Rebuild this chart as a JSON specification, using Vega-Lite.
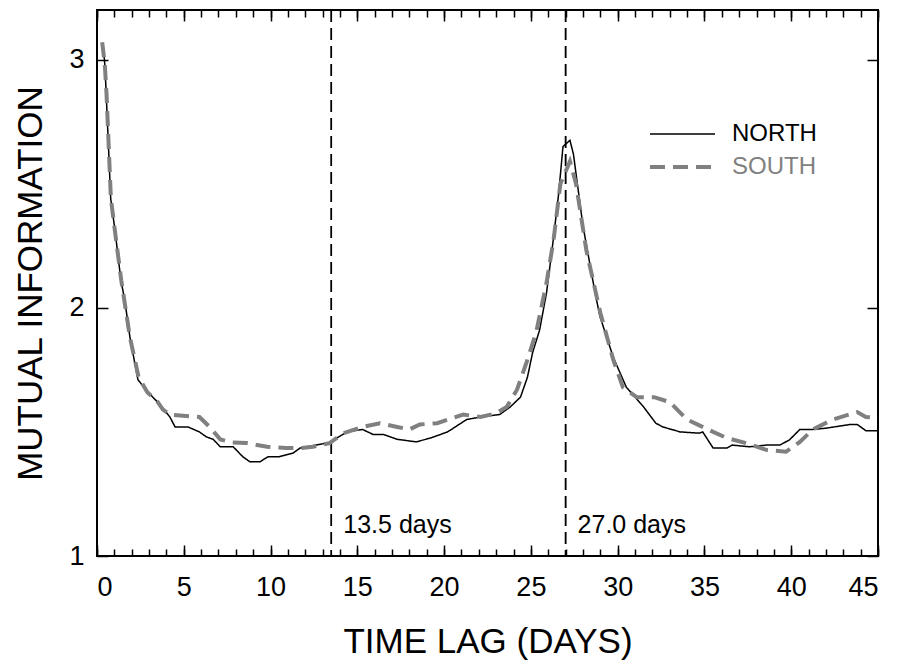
{
  "$schema": "https://vega.github.io/schema/vega-lite/v6.json",
  "width": 781,
  "height": 546,
  "autosize": "none",
  "padding": {"left": 97, "top": 10, "right": 20, "bottom": 107},
  "background": "white",
  "config": {
    "font": "Liberation Sans",
    "view": {"stroke": "black", "strokeWidth": 2},
    "axis": {
      "domain": false,
      "grid": false,
      "labelFont": "Liberation Sans",
      "titleFont": "Liberation Sans",
      "labelColor": "black",
      "titleColor": "black",
      "tickColor": "black",
      "tickWidth": 1.5,
      "titleFontWeight": "normal"
    }
  },
  "datasets": {
    "curves": [
      {"lag": 0.35, "mi": 3.06, "series": "NORTH"},
      {"lag": 0.45, "mi": 2.98, "series": "NORTH"},
      {"lag": 0.52, "mi": 2.88, "series": "NORTH"},
      {"lag": 0.79, "mi": 2.44, "series": "NORTH"},
      {"lag": 1.04, "mi": 2.31, "series": "NORTH"},
      {"lag": 1.38, "mi": 2.11, "series": "NORTH"},
      {"lag": 1.6, "mi": 2.03, "series": "NORTH"},
      {"lag": 1.9, "mi": 1.88, "series": "NORTH"},
      {"lag": 2.36, "mi": 1.71, "series": "NORTH"},
      {"lag": 2.94, "mi": 1.66, "series": "NORTH"},
      {"lag": 3.63, "mi": 1.61, "series": "NORTH"},
      {"lag": 4.2, "mi": 1.56, "series": "NORTH"},
      {"lag": 4.5, "mi": 1.52, "series": "NORTH"},
      {"lag": 5.24, "mi": 1.52, "series": "NORTH"},
      {"lag": 5.9, "mi": 1.5, "series": "NORTH"},
      {"lag": 6.3, "mi": 1.48, "series": "NORTH"},
      {"lag": 6.7, "mi": 1.47, "series": "NORTH"},
      {"lag": 7.1, "mi": 1.44, "series": "NORTH"},
      {"lag": 7.85, "mi": 1.44, "series": "NORTH"},
      {"lag": 8.4, "mi": 1.4, "series": "NORTH"},
      {"lag": 8.8, "mi": 1.38, "series": "NORTH"},
      {"lag": 9.4, "mi": 1.38, "series": "NORTH"},
      {"lag": 9.85, "mi": 1.4, "series": "NORTH"},
      {"lag": 10.5, "mi": 1.4, "series": "NORTH"},
      {"lag": 11.3, "mi": 1.415, "series": "NORTH"},
      {"lag": 11.7, "mi": 1.435, "series": "NORTH"},
      {"lag": 12.85, "mi": 1.45, "series": "NORTH"},
      {"lag": 13.4, "mi": 1.457, "series": "NORTH"},
      {"lag": 14.4, "mi": 1.5, "series": "NORTH"},
      {"lag": 15.3, "mi": 1.51, "series": "NORTH"},
      {"lag": 15.9, "mi": 1.49, "series": "NORTH"},
      {"lag": 16.5, "mi": 1.49, "series": "NORTH"},
      {"lag": 17.3, "mi": 1.47, "series": "NORTH"},
      {"lag": 18.4, "mi": 1.46, "series": "NORTH"},
      {"lag": 19.2, "mi": 1.475, "series": "NORTH"},
      {"lag": 20.2, "mi": 1.5, "series": "NORTH"},
      {"lag": 21.3, "mi": 1.55, "series": "NORTH"},
      {"lag": 22.1, "mi": 1.56, "series": "NORTH"},
      {"lag": 23.2, "mi": 1.57, "series": "NORTH"},
      {"lag": 23.8, "mi": 1.6, "series": "NORTH"},
      {"lag": 24.4, "mi": 1.64, "series": "NORTH"},
      {"lag": 24.8, "mi": 1.72, "series": "NORTH"},
      {"lag": 25.1, "mi": 1.82, "series": "NORTH"},
      {"lag": 25.5, "mi": 1.91, "series": "NORTH"},
      {"lag": 25.9, "mi": 2.06, "series": "NORTH"},
      {"lag": 26.3, "mi": 2.28, "series": "NORTH"},
      {"lag": 26.6, "mi": 2.46, "series": "NORTH"},
      {"lag": 26.85, "mi": 2.65, "series": "NORTH"},
      {"lag": 27.25, "mi": 2.675, "series": "NORTH"},
      {"lag": 27.45, "mi": 2.62, "series": "NORTH"},
      {"lag": 28.0, "mi": 2.33, "series": "NORTH"},
      {"lag": 28.7, "mi": 2.06, "series": "NORTH"},
      {"lag": 28.98, "mi": 1.965, "series": "NORTH"},
      {"lag": 29.75, "mi": 1.8, "series": "NORTH"},
      {"lag": 30.5, "mi": 1.68, "series": "NORTH"},
      {"lag": 31.5, "mi": 1.6, "series": "NORTH"},
      {"lag": 32.2, "mi": 1.535, "series": "NORTH"},
      {"lag": 32.6, "mi": 1.52, "series": "NORTH"},
      {"lag": 33.6, "mi": 1.5, "series": "NORTH"},
      {"lag": 34.7, "mi": 1.495, "series": "NORTH"},
      {"lag": 34.9, "mi": 1.5, "series": "NORTH"},
      {"lag": 35.5, "mi": 1.435, "series": "NORTH"},
      {"lag": 36.3, "mi": 1.435, "series": "NORTH"},
      {"lag": 36.6, "mi": 1.447, "series": "NORTH"},
      {"lag": 37.6, "mi": 1.44, "series": "NORTH"},
      {"lag": 38.6, "mi": 1.447, "series": "NORTH"},
      {"lag": 39.35, "mi": 1.447, "series": "NORTH"},
      {"lag": 39.9, "mi": 1.468, "series": "NORTH"},
      {"lag": 40.5, "mi": 1.51, "series": "NORTH"},
      {"lag": 41.25, "mi": 1.51, "series": "NORTH"},
      {"lag": 42.0, "mi": 1.515, "series": "NORTH"},
      {"lag": 43.4, "mi": 1.53, "series": "NORTH"},
      {"lag": 43.8, "mi": 1.53, "series": "NORTH"},
      {"lag": 44.3, "mi": 1.505, "series": "NORTH"},
      {"lag": 45.0, "mi": 1.505, "series": "NORTH"},
      {"lag": 0.3, "mi": 3.07, "series": "SOUTH"},
      {"lag": 0.45, "mi": 2.98, "series": "SOUTH"},
      {"lag": 0.55, "mi": 2.86, "series": "SOUTH"},
      {"lag": 0.8, "mi": 2.44, "series": "SOUTH"},
      {"lag": 1.05, "mi": 2.3, "series": "SOUTH"},
      {"lag": 1.4, "mi": 2.11, "series": "SOUTH"},
      {"lag": 1.9, "mi": 1.88, "series": "SOUTH"},
      {"lag": 2.4, "mi": 1.72, "series": "SOUTH"},
      {"lag": 2.9, "mi": 1.66, "series": "SOUTH"},
      {"lag": 3.5, "mi": 1.62, "series": "SOUTH"},
      {"lag": 3.8, "mi": 1.59, "series": "SOUTH"},
      {"lag": 4.2, "mi": 1.57, "series": "SOUTH"},
      {"lag": 5.9, "mi": 1.56, "series": "SOUTH"},
      {"lag": 6.5, "mi": 1.52, "series": "SOUTH"},
      {"lag": 7.1, "mi": 1.47, "series": "SOUTH"},
      {"lag": 7.8, "mi": 1.457, "series": "SOUTH"},
      {"lag": 8.6, "mi": 1.455, "series": "SOUTH"},
      {"lag": 9.8, "mi": 1.44, "series": "SOUTH"},
      {"lag": 10.9, "mi": 1.435, "series": "SOUTH"},
      {"lag": 11.7, "mi": 1.435, "series": "SOUTH"},
      {"lag": 12.45, "mi": 1.44, "series": "SOUTH"},
      {"lag": 13.4, "mi": 1.455, "series": "SOUTH"},
      {"lag": 14.2, "mi": 1.495, "series": "SOUTH"},
      {"lag": 15.3, "mi": 1.52, "series": "SOUTH"},
      {"lag": 16.3, "mi": 1.535, "series": "SOUTH"},
      {"lag": 17.3, "mi": 1.52, "series": "SOUTH"},
      {"lag": 18.0, "mi": 1.51, "series": "SOUTH"},
      {"lag": 18.6, "mi": 1.53, "series": "SOUTH"},
      {"lag": 19.6, "mi": 1.535, "series": "SOUTH"},
      {"lag": 21.1, "mi": 1.57, "series": "SOUTH"},
      {"lag": 22.1, "mi": 1.56, "series": "SOUTH"},
      {"lag": 23.0, "mi": 1.575, "series": "SOUTH"},
      {"lag": 23.6, "mi": 1.6, "series": "SOUTH"},
      {"lag": 24.2, "mi": 1.67, "series": "SOUTH"},
      {"lag": 24.75, "mi": 1.78, "series": "SOUTH"},
      {"lag": 25.3, "mi": 1.9, "series": "SOUTH"},
      {"lag": 25.9, "mi": 2.1, "series": "SOUTH"},
      {"lag": 26.3, "mi": 2.27, "series": "SOUTH"},
      {"lag": 26.7, "mi": 2.5, "series": "SOUTH"},
      {"lag": 27.25, "mi": 2.59, "series": "SOUTH"},
      {"lag": 27.6, "mi": 2.5, "series": "SOUTH"},
      {"lag": 28.2, "mi": 2.23, "series": "SOUTH"},
      {"lag": 29.0, "mi": 1.98, "series": "SOUTH"},
      {"lag": 29.75, "mi": 1.79, "series": "SOUTH"},
      {"lag": 30.3, "mi": 1.68, "series": "SOUTH"},
      {"lag": 31.1, "mi": 1.64, "series": "SOUTH"},
      {"lag": 32.1, "mi": 1.64, "series": "SOUTH"},
      {"lag": 33.0, "mi": 1.62, "series": "SOUTH"},
      {"lag": 34.0, "mi": 1.55, "series": "SOUTH"},
      {"lag": 35.5, "mi": 1.5, "series": "SOUTH"},
      {"lag": 36.3, "mi": 1.475, "series": "SOUTH"},
      {"lag": 37.4, "mi": 1.455, "series": "SOUTH"},
      {"lag": 38.6, "mi": 1.427, "series": "SOUTH"},
      {"lag": 39.7, "mi": 1.42, "series": "SOUTH"},
      {"lag": 40.5, "mi": 1.46, "series": "SOUTH"},
      {"lag": 41.25, "mi": 1.51, "series": "SOUTH"},
      {"lag": 42.4, "mi": 1.55, "series": "SOUTH"},
      {"lag": 43.8, "mi": 1.58, "series": "SOUTH"},
      {"lag": 44.3, "mi": 1.56, "series": "SOUTH"},
      {"lag": 45.0, "mi": 1.556, "series": "SOUTH"}
    ],
    "markers": [
      {"lag": 13.5, "label": "13.5 days"},
      {"lag": 27.0, "label": "27.0 days"}
    ]
  },
  "layer": [
    {
      "data": {"name": "markers"},
      "mark": {"type": "rule", "color": "black", "strokeWidth": 1.5, "strokeDash": [12, 6]},
      "encoding": {
        "x": {
          "field": "lag", "type": "quantitative",
          "scale": {"domain": [0, 45], "nice": false},
          "axis": {"orient": "bottom", "values": [0,1,2,3,4,5,6,7,8,9,10,11,12,13,14,15,16,17,18,19,20,21,22,23,24,25,26,27,28,29,30,31,32,33,34,35,36,37,38,39,40,41,42,43,44,45], "tickSize": -7, "labels": false, "title": null}
        }
      }
    },
    {
      "data": {"name": "markers"},
      "mark": {"type": "rule", "color": "black", "strokeWidth": 1.5, "strokeDash": [12, 6]},
      "encoding": {
        "x": {
          "field": "lag", "type": "quantitative",
          "axis": {"orient": "top", "values": [0,5,10,15,20,25,30,35,40,45], "tickSize": -11, "labels": false, "title": null}
        }
      }
    },
    {
      "data": {"name": "markers"},
      "mark": {"type": "text", "align": "left", "baseline": "alphabetic", "dx": 12, "dy": -23, "fontSize": 25, "font": "Liberation Sans", "color": "black"},
      "encoding": {
        "x": {
          "field": "lag", "type": "quantitative",
          "axis": {"orient": "top", "values": [0,1,2,3,4,5,6,7,8,9,10,11,12,13,14,15,16,17,18,19,20,21,22,23,24,25,26,27,28,29,30,31,32,33,34,35,36,37,38,39,40,41,42,43,44,45], "tickSize": -7, "labels": false, "title": null}
        },
        "y": {
          "datum": 1, "type": "quantitative",
          "axis": {"orient": "right", "values": [1, 2, 3], "tickSize": -11, "labels": false, "title": null}
        },
        "text": {"field": "label", "type": "nominal"}
      }
    },
    {
      "data": {"name": "curves"},
      "mark": {"type": "line", "interpolate": "linear", "strokeCap": "butt"},
      "encoding": {
        "x": {
          "field": "lag", "type": "quantitative",
          "axis": {"orient": "bottom", "values": [0,5,10,15,20,25,30,35,40,45], "tickSize": -11, "labelFontSize": 27, "labelPadding": 29, "title": "TIME LAG (DAYS)", "titleFontSize": 35, "titlePadding": 24}
        },
        "y": {
          "field": "mi", "type": "quantitative",
          "scale": {"domain": [1, 3.2], "nice": false, "zero": false},
          "axis": {"orient": "left", "values": [1, 2, 3], "tickSize": -11, "labelFontSize": 27, "labelPadding": 24, "title": "MUTUAL INFORMATION", "titleFontSize": 35, "titlePadding": 20}
        },
        "color": {
          "field": "series", "type": "nominal",
          "scale": {"domain": ["NORTH", "SOUTH"], "range": ["black", "#808080"]},
          "legend": {
            "title": null,
            "orient": "none",
            "legendX": 551,
            "legendY": 110,
            "padding": 0,
            "symbolType": "stroke",
            "symbolSize": 4225,
            "clipHeight": 28,
            "rowPadding": 5,
            "labelFontSize": 24,
            "labelFont": "Liberation Sans",
            "labelOffset": 15,
            "labelColor": {"expr": "datum.label == 'SOUTH' ? '#808080' : 'black'"}
          }
        },
        "strokeDash": {
          "field": "series", "type": "nominal",
          "scale": {"domain": ["NORTH", "SOUTH"], "range": [[1, 0], [15, 8]]},
          "legend": {
            "title": null,
            "orient": "none",
            "legendX": 551,
            "legendY": 110,
            "padding": 0,
            "symbolType": "stroke",
            "symbolSize": 4225,
            "clipHeight": 28,
            "rowPadding": 5,
            "labelFontSize": 24,
            "labelFont": "Liberation Sans",
            "labelOffset": 15,
            "labelColor": {"expr": "datum.label == 'SOUTH' ? '#808080' : 'black'"}
          }
        },
        "strokeWidth": {
          "field": "series", "type": "nominal",
          "scale": {"domain": ["NORTH", "SOUTH"], "range": [1.5, 4]},
          "legend": {
            "title": null,
            "orient": "none",
            "legendX": 551,
            "legendY": 110,
            "padding": 0,
            "symbolType": "stroke",
            "symbolSize": 4225,
            "clipHeight": 28,
            "rowPadding": 5,
            "labelFontSize": 24,
            "labelFont": "Liberation Sans",
            "labelOffset": 15,
            "labelColor": {"expr": "datum.label == 'SOUTH' ? '#808080' : 'black'"}
          }
        }
      }
    }
  ],
  "resolve": {"axis": {"x": "independent", "y": "independent"}}
}
